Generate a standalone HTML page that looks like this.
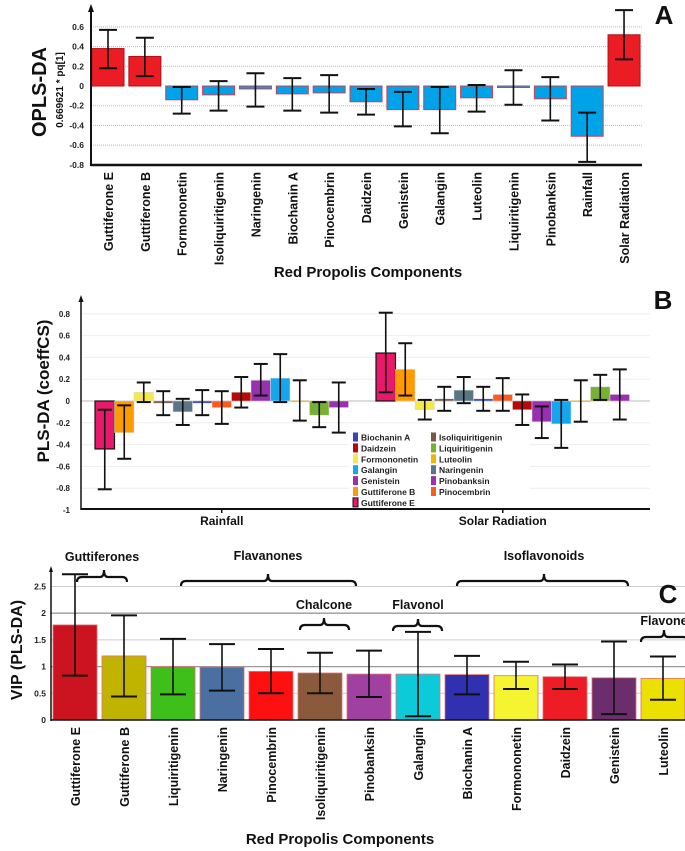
<!DOCTYPE html>
<html><head><meta charset="utf-8"><style>
html,body{margin:0;padding:0;background:#fff;}
svg{display:block;font-family:"Liberation Sans",sans-serif;font-weight:bold;}
</style></head><body>
<svg id="fig" width="685" height="851" viewBox="0 0 685 851"></svg>
<script>
// ---------- Panel A data ----------
const aCats=["Guttiferone E","Guttiferone B","Formononetin","Isoliquiritigenin","Naringenin","Biochanin A","Pinocembrin","Daidzein","Genistein","Galangin","Luteolin","Liquiritigenin","Pinobanksin","Rainfall","Solar Radiation"];
const aVals=[0.38,0.30,-0.14,-0.09,-0.03,-0.08,-0.07,-0.16,-0.24,-0.24,-0.12,-0.01,-0.13,-0.51,0.52];
const aLo=[0.18,0.10,-0.28,-0.25,-0.21,-0.25,-0.27,-0.29,-0.41,-0.48,-0.26,-0.19,-0.35,-0.77,0.27];
const aHi=[0.57,0.49,-0.01,0.05,0.13,0.08,0.11,-0.03,-0.06,-0.01,0.01,0.16,0.09,-0.27,0.77];
const aTicks=[0.6,0.4,0.2,0,-0.2,-0.4,-0.6,-0.8];
// ---------- Panel B data ----------
const bGroups=["Rainfall","Solar Radiation"];
const bSeries=["Guttiferone E","Guttiferone B","Formononetin","Isoliquiritigenin","Naringenin","Biochanin A","Pinocembrin","Daidzein","Genistein","Galangin","Luteolin","Liquiritigenin","Pinobanksin"];
const bRain=[-0.44,-0.29,0.08,-0.02,-0.10,-0.02,-0.06,0.08,0.19,0.21,0.005,-0.13,-0.06];
const bRainLo=[-0.81,-0.53,-0.01,-0.13,-0.22,-0.13,-0.21,-0.06,0.05,-0.01,-0.18,-0.24,-0.29];
const bRainHi=[-0.08,-0.04,0.17,0.09,0.02,0.10,0.09,0.22,0.34,0.43,0.19,-0.01,0.17];
const bSolar=[0.44,0.29,-0.08,0.02,0.10,0.02,0.06,-0.08,-0.19,-0.21,0.005,0.13,0.06];
const bSolarLo=[0.08,0.05,-0.17,-0.09,-0.02,-0.09,-0.09,-0.22,-0.34,-0.43,-0.19,0.01,-0.17];
const bSolarHi=[0.81,0.53,0.01,0.13,0.22,0.13,0.21,0.06,-0.05,0.01,0.19,0.24,0.29];
const bTicks=[0.8,0.6,0.4,0.2,0,-0.2,-0.4,-0.6,-0.8,-1];
const bLegend1=["Biochanin A","Daidzein","Formononetin","Galangin","Genistein","Guttiferone B","Guttiferone E"];
const bLegend2=["Isoliquiritigenin","Liquiritigenin","Luteolin","Naringenin","Pinobanksin","Pinocembrin"];
// ---------- Panel C data ----------
const cCats=["Guttiferone E","Guttiferone B","Liquiritigenin","Naringenin","Pinocembrin","Isoliquiritigenin","Pinobanksin","Galangin","Biochanin A","Formononetin","Daidzein","Genistein","Luteolin"];
const cVals=[1.78,1.20,1.00,0.99,0.91,0.88,0.86,0.86,0.85,0.83,0.81,0.79,0.78];
const cLo=[0.83,0.44,0.48,0.55,0.50,0.50,0.43,0.07,0.48,0.58,0.58,0.11,0.38];
const cHi=[2.73,1.96,1.52,1.42,1.33,1.26,1.30,1.65,1.20,1.09,1.04,1.47,1.19];
const cTicks=[0,0.5,1,1.5,2,2.5];

const colors={"Guttiferone E":"#e8196a","Guttiferone B":"#ff9a00","Formononetin":"#f6e84a","Isoliquiritigenin":"#7b5546","Naringenin":"#5a7684","Biochanin A":"#3a46b8","Pinocembrin":"#ff5a1e","Daidzein":"#b40a0a","Genistein":"#9a2fb0","Galangin":"#16a6ee","Luteolin":"#f2b400","Liquiritigenin":"#78b034","Pinobanksin":"#9a2fb0"};
const cColors=["#cc1420","#c0b400","#3fbf1a","#4a6fa0","#ff1010","#8b5a3c","#a040a0","#0ccad8","#3030b0","#f4f430","#ee1c25","#6b2d6b","#ece000"];

const NS="http://www.w3.org/2000/svg";
const svg=document.getElementById("fig");
function mk(tag,attrs,parent){const e=document.createElementNS(NS,tag);for(const k in attrs)e.setAttribute(k,attrs[k]);(parent||svg).appendChild(e);return e;}
function txt(s,attrs,parent){const e=mk("text",attrs,parent);e.textContent=s;return e;}
function errBar(g,x,y1,y2,cap){
  const l=mk("line",{x1:x,x2:x,y1:y1,y2:y2,stroke:"#111","stroke-width":1.6},g);
  
  
  mk("line",{x1:x-cap,x2:x+cap,y1:y1,y2:y1,stroke:"#111","stroke-width":2},g);
  mk("line",{x1:x-cap,x2:x+cap,y1:y2,y2:y2,stroke:"#111","stroke-width":2},g);
}

// ================= PANEL A =================
(function(){
  const g=mk("g",{});
  
  
  const x0=91,x1=642,zero=86,ppu=98.5;
  const yA=v=>zero-v*ppu;
  const pitch=36.86,bw=32,first=108;
  const xA=i=>first+i*pitch;
  aTicks.forEach(t=>{
    if(t!==0&&t!==-0.8) mk("line",{x1:x0,x2:x1,y1:yA(t),y2:yA(t),stroke:"#bbb","stroke-width":1,"stroke-dasharray":"1,1"},g);
    const l=txt(String(t),{x:84,y:yA(t)+3,"font-size":8.5,"text-anchor":"end",fill:"#222"},g);
    
    
  });
  aCats.forEach((c,i)=>{
    const v=aVals[i];
    const top=Math.min(yA(v),yA(0)),h=Math.abs(yA(v)-yA(0));
    const r=mk("rect",{x:xA(i)-bw/2,y:top,width:bw,height:Math.max(h,1.5),fill:v>0?"#ec1c24":"#00a2e8",stroke:v>0?"#b01018":"#d04050","stroke-width":1},g);
    
    
    errBar(g,xA(i),yA(aHi[i]),yA(aLo[i]),9);
    const t=txt(c,{transform:`translate(${xA(i)+5},172) rotate(-90)`,"font-size":12.5,"text-anchor":"end",fill:"#111"},g);
    
    
  });
  mk("line",{x1:x0,x2:x1,y1:165,y2:165,stroke:"#111","stroke-width":2.5},g);
  mk("line",{x1:x0,x2:x0,y1:166,y2:10,stroke:"#111","stroke-width":2},g);
  mk("path",{d:`M${x0-3},12 L${x0},4 L${x0+3},12 Z`,fill:"#111"},g);
  const yt=txt("OPLS-DA",{transform:"translate(46,92) rotate(-90)","font-size":20,"text-anchor":"middle",fill:"#111"},g);
  
  
  const ys=txt("0.669621 * pq[1]",{transform:"translate(63,90) rotate(-90)","font-size":10,"text-anchor":"middle",fill:"#111"},g);
  
  
  const xt=txt("Red Propolis Components",{x:368,y:277,"font-size":15,"text-anchor":"middle",fill:"#111"},g);
  
  
  const pl=txt("A",{x:664,y:24,"font-size":26,"text-anchor":"middle",fill:"#111"},g);
  
  
})();

// ================= PANEL B =================
(function(){
  const g=mk("g",{});
  
  
  const x0=81,x1=650,zero=401,ppu=109;
  const yB=v=>zero-v*ppu;
  const bw=19.5;
  const gStart=[95,376];
  bTicks.forEach(t=>{
    if(t!==-1) mk("line",{x1:x0,x2:x1,y1:yB(t),y2:yB(t),stroke:t===0?"#bbb":"#eee","stroke-width":1},g);
    const l=txt(String(t),{x:70,y:yB(t)+3,"font-size":8,"text-anchor":"end",fill:"#222"},g);
    
    
  });
  const sets=[[bRain,bRainLo,bRainHi],[bSolar,bSolarLo,bSolarHi]];
  bGroups.forEach((gn,gi)=>{
    const [vals,lo,hi]=sets[gi];
    bSeries.forEach((s,i)=>{
      const v=vals[i],x=gStart[gi]+i*bw;
      const top=Math.min(yB(v),yB(0)),h=Math.abs(yB(v)-yB(0));
      const r=mk("rect",{x:x,y:top,width:bw,height:Math.max(h,1.5),fill:colors[s],stroke:s==="Guttiferone E"?"#111":"#ddd","stroke-width":s==="Guttiferone E"?1.2:0.5},g);
      
      
      errBar(g,x+bw/2,yB(hi[i]),yB(lo[i]),7);
    });
    const cx=gStart[gi]+bSeries.length*bw/2;
    mk("line",{x1:cx,x2:cx,y1:509,y2:513,stroke:"#111","stroke-width":1.5},g);
    const t=txt(gn,{x:cx,y:525,"font-size":12,"text-anchor":"middle",fill:"#111"},g);
    
    
  });
  mk("line",{x1:x0,x2:x1,y1:509,y2:509,stroke:"#111","stroke-width":2},g);
  mk("line",{x1:x0,x2:x0,y1:510,y2:300,stroke:"#111","stroke-width":1.5},g);
  mk("path",{d:`M${x0-2.5},302 L${x0},295 L${x0+2.5},302 Z`,fill:"#111"},g);
  // legend
  const lg=mk("g",{},g);
  
  
  mk("rect",{x:349,y:428,width:181,height:76,fill:"#fff"},lg);
  bLegend1.forEach((s,i)=>{
    const y=437+i*10.9;
    mk("rect",{x:353,y:y-4.5,width:5,height:9,fill:colors[s],stroke:s==="Guttiferone E"?"#111":"none","stroke-width":1},lg);
    const t=txt(s,{x:361,y:y+3.5,"font-size":8.5,fill:"#222"},lg);
    
    
  });
  bLegend2.forEach((s,i)=>{
    const y=437+i*10.9;
    mk("rect",{x:431,y:y-4.5,width:5,height:9,fill:colors[s]},lg);
    const t=txt(s,{x:439,y:y+3.5,"font-size":8.5,fill:"#222"},lg);
    
    
  });
  const yt=txt("PLS-DA (coeffCS)",{transform:"translate(49,391) rotate(-90)","font-size":17,"text-anchor":"middle",fill:"#111"},g);
  
  
  const pl=txt("B",{x:663,y:309,"font-size":26,"text-anchor":"middle",fill:"#111"},g);
  
  
})();

// ================= PANEL C =================
(function(){
  const g=mk("g",{});
  
  
  const x0=51,zero=720,ppu=53.4;
  const yC=v=>zero-v*ppu;
  const pitch=49,bw=44,first=53;
  cTicks.forEach(t=>{
    if(t>0) mk("line",{x1:x0,x2:685,y1:yC(t),y2:yC(t),stroke:t%1===0.5?"#ccc":"#999","stroke-width":t%1===0.5?1:1.3},g);
    const l=txt(String(t),{x:46,y:yC(t)+3,"font-size":8.5,"text-anchor":"end",fill:"#222"},g);
    
    
  });
  cCats.forEach((c,i)=>{
    const x=first+i*pitch;
    const r=mk("rect",{x:x,y:yC(cVals[i]),width:bw,height:yC(0)-yC(cVals[i]),fill:cColors[i],stroke:"#e07070","stroke-width":0.8},g);
    
    
    errBar(g,x+bw/2,yC(cHi[i]),yC(cLo[i]),13);
    const t=txt(c,{transform:`translate(${x+bw/2+5},727) rotate(-90)`,"font-size":12.5,"text-anchor":"end",fill:"#111"},g);
    
    
  });
  mk("line",{x1:x0,x2:685,y1:720,y2:720,stroke:"#111","stroke-width":1.5},g);
  mk("line",{x1:x0,x2:x0,y1:721,y2:570,stroke:"#111","stroke-width":1.5},g);
  mk("path",{d:`M${x0-2},572 L${x0},566 L${x0+2},572 Z`,fill:"#111"},g);
  function brace(name,x1,x2,y,cx,label,ly){
    const bg=mk("g",{},g);
    
    
    cx=cx||(x1+x2)/2;
    mk("path",{d:`M${x1},${y+5} Q${x1},${y} ${x1+5},${y} L${cx-4},${y} Q${cx},${y} ${cx},${y-7} Q${cx},${y} ${cx+4},${y} L${x2-5},${y} Q${x2},${y} ${x2},${y+5}`,fill:"none",stroke:"#111","stroke-width":2.2},bg);
    txt(label,{x:cx,y:ly,"font-size":12.5,"text-anchor":"middle",fill:"#111"},bg);
  }
  brace("guttiferones-bracket",77,127,577,104,"",0);
  const gl=txt("Guttiferones",{x:102,y:561,"font-size":12.5,"text-anchor":"middle",fill:"#111"},g);
  
  
  brace("flavanones-bracket",181,356,581,268,"Flavanones",560);
  brace("isoflavonoids-bracket",457,628,581,544,"Isoflavonoids",560);
  brace("chalcone-bracket",300,349,625,324,"Chalcone",609);
  brace("flavonol-bracket",393,442,626,418,"Flavonol",609);
  brace("flavone-bracket",641,688,637,664,"Flavone",625);
  const yt=txt("VIP (PLS-DA)",{transform:"translate(22,650) rotate(-90)","font-size":16,"text-anchor":"middle",fill:"#111"},g);
  
  
  const xt=txt("Red Propolis Components",{x:340,y:844,"font-size":15,"text-anchor":"middle",fill:"#111"},g);
  
  
  const pl=txt("C",{x:668,y:603,"font-size":26,"text-anchor":"middle",fill:"#111"},g);
  
  
})();
</script>
</body></html>
